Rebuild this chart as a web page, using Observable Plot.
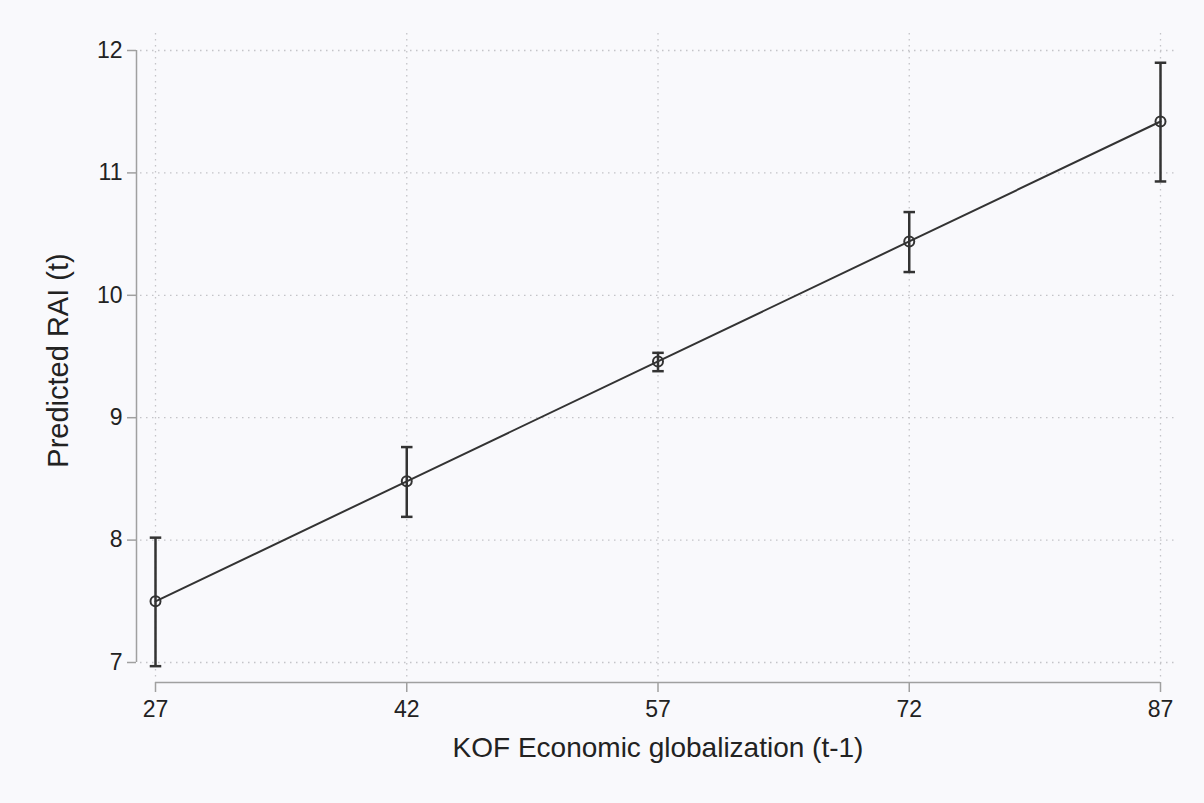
<!DOCTYPE html>
<html>
<head>
<meta charset="utf-8">
<script src="https://cdn.jsdelivr.net/npm/d3@7"></script>
<script src="https://cdn.jsdelivr.net/npm/@observablehq/plot@0.6"></script>
<style>
  html, body { margin: 0; padding: 0; background: #f9f9fc; }
  #chart svg { display: block; }
</style>
</head>
<body>
<div id="chart"></div>
<script>
const kof = [27, 42, 57, 72, 87];
const predicted = [7.50, 8.48, 9.46, 10.44, 11.42];
const lower = [6.97, 8.19, 9.38, 10.19, 10.93];
const upper = [8.02, 8.76, 9.53, 10.68, 11.90];
const yTicks = [7, 8, 9, 10, 11, 12];
const xTicks = [27, 42, 57, 72, 87];

const data = kof.map((x, i) => ({x, y: predicted[i], lo: lower[i], hi: upper[i]}));

const ink = "#333333";
const axisGray = "#a0a0a0";
const gridGray = "#c4c4c8";

const capSymbol = {
  draw(context, size) {
    const w = Math.sqrt(size) / 2;
    context.moveTo(-w, 0);
    context.lineTo(w, 0);
  }
};

const chart = Plot.plot({
  width: 1204,
  height: 803,
  marginLeft: 155,
  marginRight: 44,
  marginTop: 50,
  marginBottom: 141,
  style: {background: "#f9f9fc", fontFamily: "'Liberation Sans', Arial, Helvetica, sans-serif", color: "#222"},
  x: {domain: [27, 87]},
  y: {domain: [7, 12]},
  marks: [
    // grid
    Plot.ruleY(yTicks, {stroke: gridGray, strokeWidth: 1.3, strokeDasharray: "1.5,4.5", insetLeft: -15, insetRight: -18}),
    Plot.ruleX(xTicks, {stroke: gridGray, strokeWidth: 1.3, strokeDasharray: "1.5,4.5", insetTop: -17, insetBottom: -15}),
    // axis lines
    Plot.ruleX([27], {x: d => d, y1: 7, y2: 12, dx: -19, stroke: axisGray, strokeWidth: 1.5}),
    Plot.ruleY([7], {y: d => d, x1: 27, x2: 87, dy: 20, stroke: axisGray, strokeWidth: 1.5}),
    Plot.axisY(yTicks, {dx: -19, tickSize: 9, tickPadding: 5, stroke: axisGray, strokeWidth: 1.5, fontSize: 23, fill: "#222", label: null, tickFormat: d => String(d)}),
    Plot.axisX(xTicks, {dy: 20, tickSize: 10, tickPadding: 8, stroke: axisGray, strokeWidth: 1.5, fontSize: 23, fill: "#222", label: null, tickFormat: d => String(d)}),
    // error bars
    Plot.ruleX(data, {x: "x", y1: "lo", y2: "hi", stroke: ink, strokeWidth: 2.5}),
    Plot.dot(data, {x: "x", y: "lo", symbol: capSymbol, r: 6.5, stroke: ink, strokeWidth: 2.5, fill: "none"}),
    Plot.dot(data, {x: "x", y: "hi", symbol: capSymbol, r: 6.5, stroke: ink, strokeWidth: 2.5, fill: "none"}),
    // line and markers
    Plot.line(data, {x: "x", y: "y", stroke: ink, strokeWidth: 2}),
    Plot.dot(data, {x: "x", y: "y", r: 5, stroke: ink, strokeWidth: 2, fill: "none"}),
    // axis titles
    Plot.text(["KOF Economic globalization (t-1)"], {frameAnchor: "bottom", dy: 94, fontSize: 28, fill: "#222", text: d => d}),
    Plot.text(["Predicted RAI (t)"], {frameAnchor: "left", textAnchor: "middle", dx: -97, dy: 4, rotate: -90, fontSize: 29, fill: "#222", text: d => d})
  ]
});

document.getElementById("chart").append(chart);
</script>
</body>
</html>
